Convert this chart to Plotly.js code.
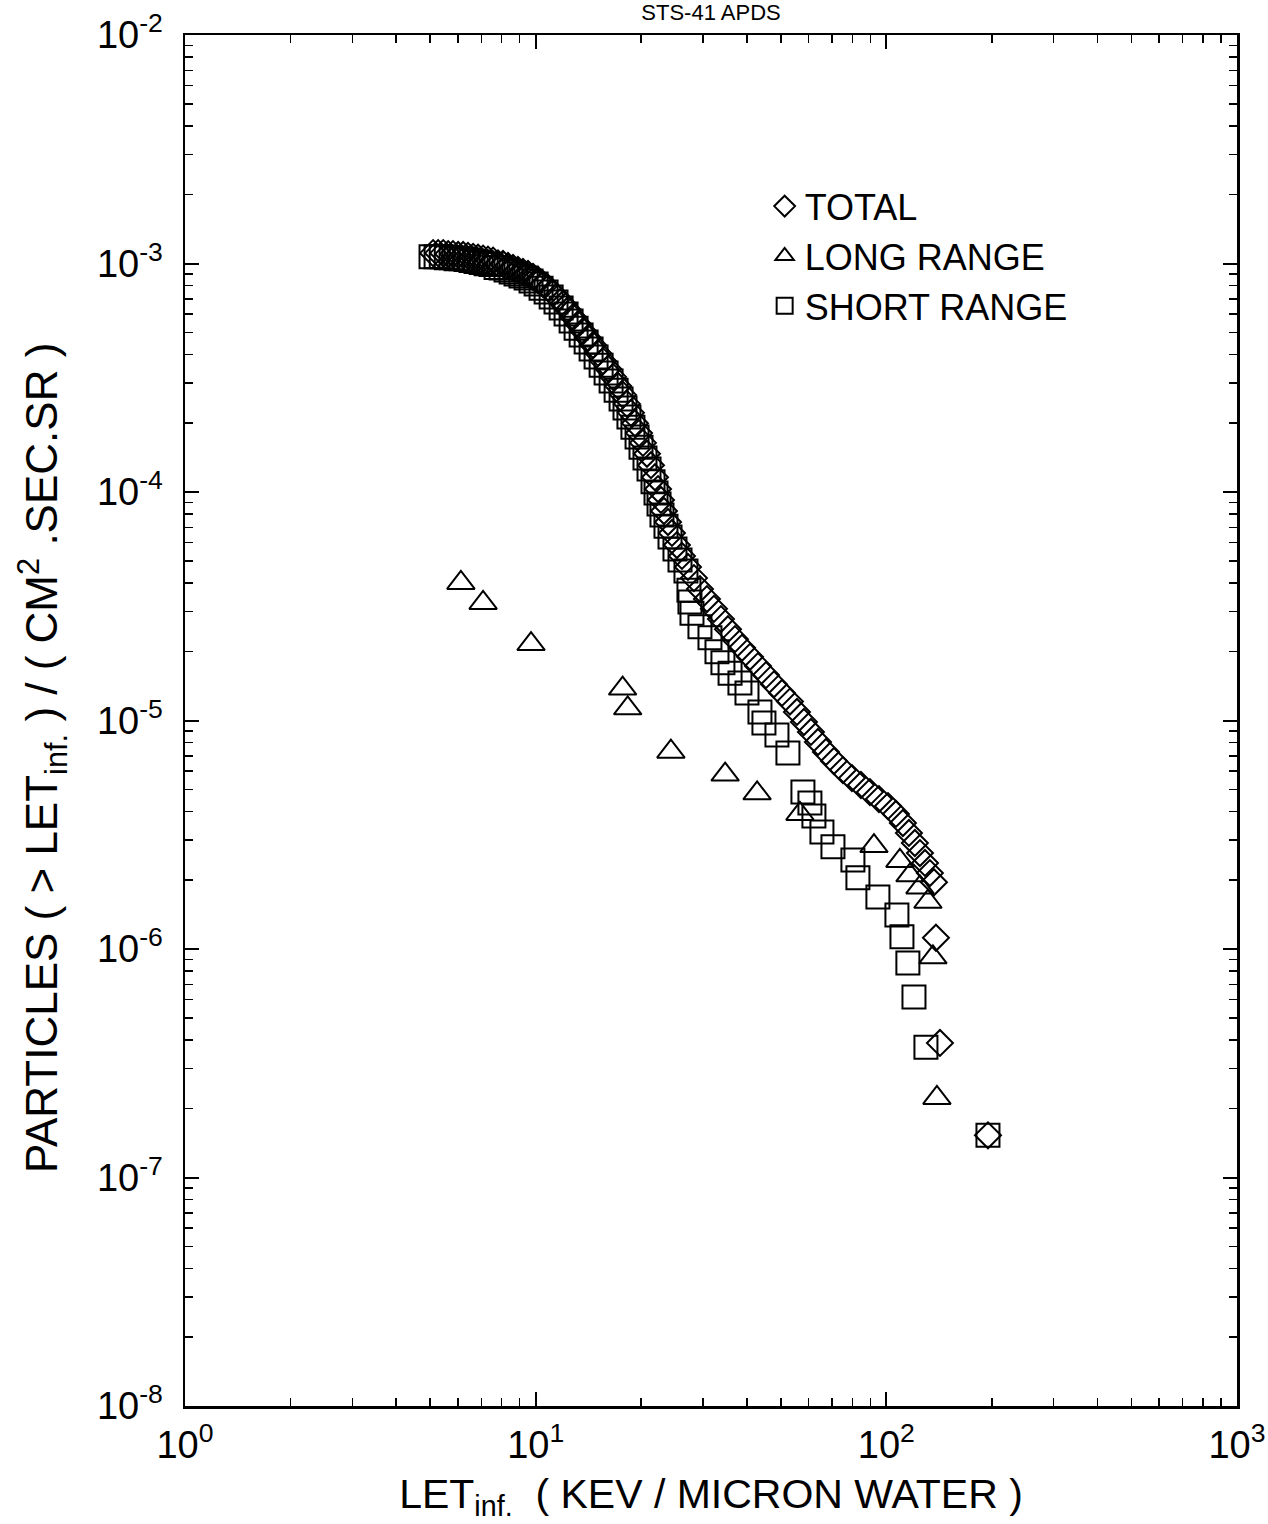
<!DOCTYPE html>
<html>
<head>
<meta charset="utf-8">
<script src="https://cdn.plot.ly/plotly-3.0.1.min.js"></script>
<style>html,body{margin:0;padding:0;background:#fff}#chart{width:1268px;height:1524px}</style>
</head>
<body>
<div id="chart"></div>
<script>
const chartTitle = 'STS-41 APDS';
const xTitle = 'LET<sub>inf.</sub>  ( KEV / MICRON WATER )';
const yTitle = 'PARTICLES ( > LET<sub>inf.</sub> ) / ( CM<sup>2</sup> .SEC.SR )';
const seriesNames = ['TOTAL', 'LONG RANGE', 'SHORT RANGE'];

const xTickVals = [1, 10, 100, 1000];
const xTickText = ['10<sup>0</sup>', '10<sup>1</sup>', '10<sup>2</sup>', '10<sup>3</sup>'];
const yTickVals = [1e-8, 1e-7, 1e-6, 1e-5, 1e-4, 1e-3, 1e-2];
const yTickText = ['10<sup>-8</sup>', '10<sup>-7</sup>', '10<sup>-6</sup>', '10<sup>-5</sup>', '10<sup>-4</sup>', '10<sup>-3</sup>', '10<sup>-2</sup>'];

const letTotal = [5.10,5.27,5.45,5.63,5.81,6.01,6.21,6.41,6.63,6.85,
  7.08,7.31,7.56,7.81,8.07,8.34,8.62,8.90,9.20,9.51,
  9.83,10.16,10.5,10.85,11.21,11.58,11.97,12.37,12.78,13.21,
  13.65,14.11,14.58,15.06,15.57,16.09,16.62,17.18,17.75,18.21,
  18.69,19.19,19.71,20.23,20.77,21.32,21.89,22.33,22.77,23.22,
  23.84,24.47,25.28,26.13,27.18,28.27,29.41,30.79,32.24,33.76,
  35.35,37.01,38.76,40.85,43.05,45.37,47.81,50.39,53.10,55.60,
  58.21,60.95,63.83,67.27,70.89,75.20,79.80,84.66,89.79,95.26,
  101.1,106.5,111.5,116.0,120.6,124.7,128.9,133.1,136.7,
  138.5,142.2,194.9];
const fluxTotal = [1.11e-3,1.11e-3,1.11e-3,1.10e-3,1.10e-3,1.09e-3,1.09e-3,1.08e-3,1.07e-3,1.06e-3,
  1.05e-3,1.04e-3,1.03e-3,1.00e-3,9.95e-4,9.75e-4,9.56e-4,9.37e-4,9.18e-4,9.00e-4,
  8.73e-4,8.47e-4,8.13e-4,7.81e-4,7.43e-4,7.06e-4,6.65e-4,6.26e-4,5.83e-4,5.43e-4,
  5.06e-4,4.72e-4,4.40e-4,4.06e-4,3.74e-4,3.46e-4,3.19e-4,2.91e-4,2.66e-4,2.43e-4,
  2.22e-4,2.00e-4,1.81e-4,1.64e-4,1.47e-4,1.31e-4,1.16e-4,1.03e-4,9.23e-5,8.26e-5,
  7.39e-5,6.62e-5,5.86e-5,5.25e-5,4.70e-5,4.20e-5,3.76e-5,3.40e-5,3.08e-5,2.78e-5,
  2.51e-5,2.27e-5,2.08e-5,1.90e-5,1.73e-5,1.58e-5,1.44e-5,1.32e-5,1.21e-5,1.09e-5,
  9.85e-6,8.91e-6,8.05e-6,7.28e-6,6.65e-6,6.07e-6,5.60e-6,5.22e-6,4.86e-6,4.53e-6,
  4.22e-6,3.90e-6,3.56e-6,3.22e-6,2.91e-6,2.63e-6,2.38e-6,2.15e-6,1.96e-6,
  1.12e-6,3.88e-7,1.53e-7];

const letLong = [6.12, 7.08, 9.70, 17.7, 18.3, 24.3, 34.7, 42.8, 56.7, 92.2, 109.3, 116.8, 124.7, 131.4, 135.8, 139.4];
const fluxLong = [4.0e-5, 3.27e-5, 2.16e-5, 1.38e-5, 1.13e-5, 7.3e-6, 5.8e-6, 4.8e-6, 3.9e-6, 2.82e-6, 2.43e-6, 2.1e-6, 1.86e-6, 1.61e-6, 9.2e-7, 2.23e-7];

const letShort = [5.03,5.20,5.38,5.56,5.74,5.93,6.13,6.33,6.54,6.76,
  6.99,7.22,7.46,7.71,7.97,8.23,8.51,8.79,9.08,9.39,
  9.70,10.03,10.36,10.71,11.07,11.43,11.82,12.21,12.62,13.04,
  13.48,13.93,14.39,14.87,15.37,15.88,16.41,16.96,17.52,17.98,
  18.45,18.94,19.46,19.97,20.50,21.05,21.61,22.04,22.48,22.92,
  23.53,24.16,24.96,25.80,26.83,27.36,27.54,
  27.91,29.41,31.41,32.89,34.20,35.84,38.24,40.05,43.61,44.77,
  48.76,52.41,57.83,60.55,62.16,65.52,70.43,80.30,82.98,94.62,
  107.2,110.8,115.2,119.9,129.7,194.9];
const fluxShort = [1.07e-3,1.07e-3,1.07e-3,1.06e-3,1.06e-3,1.05e-3,1.05e-3,1.04e-3,1.03e-3,1.02e-3,
  1.01e-3,9.98e-4,9.89e-4,9.60e-4,9.55e-4,9.36e-4,9.18e-4,9.00e-4,8.81e-4,8.64e-4,
  8.38e-4,8.13e-4,7.80e-4,7.50e-4,7.13e-4,6.78e-4,6.38e-4,6.01e-4,5.60e-4,5.21e-4,
  4.86e-4,4.53e-4,4.22e-4,3.90e-4,3.59e-4,3.32e-4,3.06e-4,2.79e-4,2.55e-4,2.33e-4,
  2.13e-4,1.92e-4,1.74e-4,1.57e-4,1.41e-4,1.26e-4,1.11e-4,9.89e-5,8.86e-5,7.93e-5,
  7.09e-5,6.36e-5,5.63e-5,5.04e-5,4.51e-5,3.72e-5,3.30e-5,
  2.95e-5,2.57e-5,2.30e-5,2.00e-5,1.79e-5,1.61e-5,1.46e-5,1.32e-5,1.09e-5,9.75e-6,
  8.64e-6,7.21e-6,4.86e-6,4.35e-6,3.82e-6,3.25e-6,2.80e-6,2.45e-6,2.05e-6,1.69e-6,
  1.41e-6,1.13e-6,8.69e-7,6.16e-7,3.72e-7,1.53e-7];

const FONT = '"Liberation Sans", Arial, Helvetica, sans-serif';
const INK = '#000000';

function markerTrace(name, xs, ys, symbol, size) {
  return {
    type: 'scatter', mode: 'markers', name: name, x: xs, y: ys,
    cliponaxis: false,
    marker: { symbol: symbol, size: size, color: INK, line: { width: 2, color: INK } }
  };
}

const traces = [
  markerTrace(seriesNames[0], letTotal, fluxTotal, 'diamond-open', 20),
  markerTrace(seriesNames[1], letLong, fluxLong, 'triangle-up-open', 24),
  markerTrace(seriesNames[2], letShort, fluxShort, 'square-open', 23)
];

const axisCommon = {
  type: 'log', showgrid: false, zeroline: false,
  showline: true, linewidth: 2.5, linecolor: INK, mirror: 'ticks',
  tickmode: 'array', ticks: 'inside', ticklen: 14, tickwidth: 2, tickcolor: INK,
  minor: { ticks: 'inside', ticklen: 8, tickwidth: 1.5, tickcolor: INK, dtick: 'D1', showgrid: false },
  tickfont: { family: FONT, size: 38, color: INK }
};

const layout = {
  width: 1268, height: 1524,
  margin: { l: 185, r: 31, t: 35, b: 118, pad: 0 },
  paper_bgcolor: '#ffffff', plot_bgcolor: '#ffffff',
  font: { family: FONT, color: INK, size: 34 },
  title: { text: chartTitle, x: 0.5, xref: 'paper', xanchor: 'center', y: 0.9972, yref: 'container', yanchor: 'top', font: { family: FONT, size: 22, color: INK } },
  xaxis: Object.assign({}, axisCommon, {
    range: [0, 3], tickvals: xTickVals, ticktext: xTickText, ticklabelstandoff: 4,
    title: { text: xTitle, font: { family: FONT, size: 41, color: INK }, standoff: 14 }
  }),
  yaxis: Object.assign({}, axisCommon, {
    range: [-8, -2], tickvals: yTickVals, ticktext: yTickText, ticklabelstandoff: 12
  }),
  annotations: [{
    text: yTitle, textangle: -90, showarrow: false,
    xref: 'paper', yref: 'paper', x: -0.1359, y: 0.4726, xanchor: 'center', yanchor: 'middle',
    font: { family: FONT, size: 44, color: INK }
  }],
  showlegend: true,
  legend: {
    x: 0.551, y: 0.897, xanchor: 'left', yanchor: 'top',
    bgcolor: 'rgba(0,0,0,0)', borderwidth: 0,
    font: { family: FONT, size: 36, color: INK },
    itemsizing: 'trace'
  }
};

Plotly.newPlot('chart', traces, layout, { staticPlot: true, displayModeBar: false });
</script>
</body>
</html>
